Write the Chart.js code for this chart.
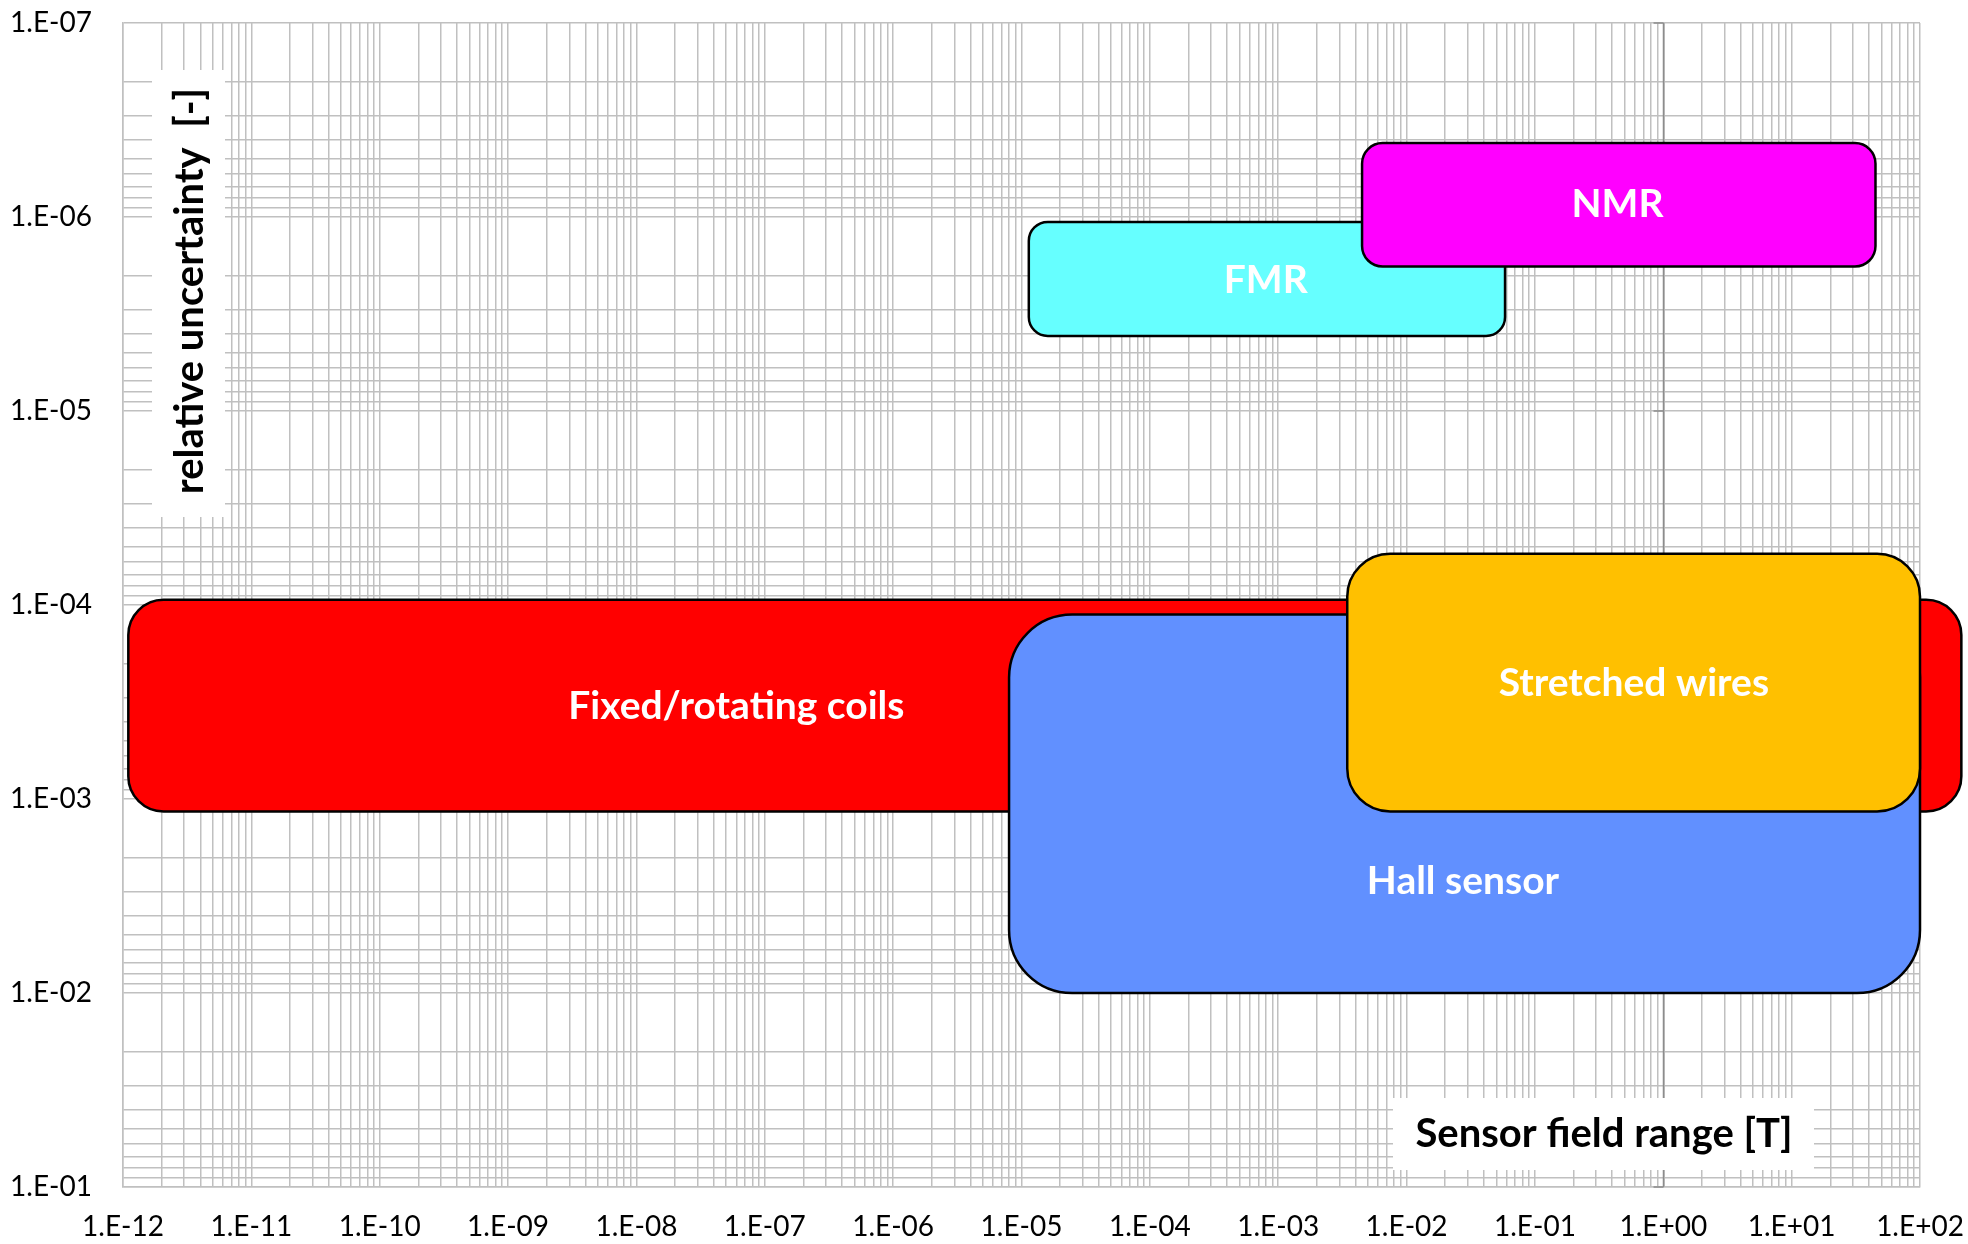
<!DOCTYPE html>
<html>
<head>
<meta charset="utf-8">
<title>Sensor field range and relative uncertainty</title>
<script src="https://cdn.jsdelivr.net/npm/chart.js@4.4.1/dist/chart.umd.min.js"></script>
<style>
  html, body { margin: 0; padding: 0; background: #fff; }
  #wrap { width: 1968px; height: 1244px; }
</style>
</head>
<body>
<div id="wrap"><canvas id="myChart"></canvas></div>
<script>
// Field range [T] and relative uncertainty [-] covered by each method
const sensorNames = ['Fixed/rotating coils', 'Hall sensor', 'Stretched wires', 'FMR', 'NMR'];
const fieldMin = [1.1e-12, 8.0e-6, 3.45e-3, 1.14e-5, 4.5e-3];
const fieldMax = [210, 100, 100, 0.0585, 45];
const uncertaintyBest = [9.4e-5, 1.12e-4, 5.45e-5, 1.06e-6, 4.16e-7];
const uncertaintyWorst = [1.16e-3, 1.0e-2, 1.16e-3, 4.1e-6, 1.8e-6];

// where each method's name is written
const labelField = [6.0e-8, 2.75e-2, 0.59, 8.0e-4, 0.44];
const labelUncertainty = [3.35e-4, 2.67e-3, 2.55e-4, 2.12e-6, 8.65e-7];

const xTickLabels = ['1.E-12', '1.E-11', '1.E-10', '1.E-09', '1.E-08', '1.E-07', '1.E-06', '1.E-05',
                     '1.E-04', '1.E-03', '1.E-02', '1.E-01', '1.E+00', '1.E+01', '1.E+02'];
const yTickLabels = ['1.E-07', '1.E-06', '1.E-05', '1.E-04', '1.E-03', '1.E-02', '1.E-01'];

const xMin = 1e-12, xMax = 1e2;
const yMin = 1e-7, yMax = 1e-1;

const boxColors = ['#ff0000', '#6190ff', '#ffc000', '#66ffff', '#ff00ff'];
const gridColor = '#c0c0c0';
const axisColor = '#8c8c8c';

// 1..9 x 10^n for every decade, so every minor line gets a grid line
function decadeTicks(min, max) {
    const first = Math.round(Math.log10(min));
    const last = Math.round(Math.log10(max));
    const ticks = [];
    for (let e = first; e < last; e++) {
        for (let s = 1; s <= 9; s++) ticks.push({ value: s * Math.pow(10, e) });
    }
    ticks.push({ value: max });
    return ticks;
}

function roundedBox(ctx, x, y, w, h, r) {
    ctx.beginPath();
    ctx.moveTo(x + r, y);
    ctx.arcTo(x + w, y, x + w, y + h, r);
    ctx.arcTo(x + w, y + h, x, y + h, r);
    ctx.arcTo(x, y + h, x, y, r);
    ctx.arcTo(x, y, x + w, y, r);
    ctx.closePath();
}

// Axis at 1 T, axis titles on white patches, then the range boxes on top
const sensorBoxes = {
    id: 'sensorBoxes',
    beforeDatasetsDraw(chart) {
        const { ctx, chartArea: area, scales: { x, y } } = chart;
        ctx.save();

        const px = Math.round(x.getPixelForValue(1)) + 0.5;
        ctx.strokeStyle = axisColor;
        ctx.lineWidth = 1.5;
        ctx.beginPath();
        ctx.moveTo(px, area.top);
        ctx.lineTo(px, area.bottom);
        y.ticks.forEach((t, i) => {
            if (i % 9 !== 0) return;
            const py = y.getPixelForValue(t.value);
            ctx.moveTo(px - 10, py);
            ctx.lineTo(px, py);
        });
        ctx.stroke();

        // y title
        ctx.fillStyle = '#fff';
        ctx.fillRect(area.left + 29, area.top + 47, 73, 447);
        ctx.save();
        ctx.translate(area.left + 67, area.top + 268);
        ctx.rotate(-Math.PI / 2);
        ctx.fillStyle = '#000';
        ctx.font = 'bold 40px Lato';
        ctx.textAlign = 'center';
        ctx.textBaseline = 'middle';
        ctx.fillText('relative uncertainty  [-]', 0, 0);
        ctx.restore();

        // x title
        ctx.fillStyle = '#fff';
        ctx.fillRect(area.right - 527, area.bottom - 89, 421, 72);
        ctx.fillStyle = '#000';
        ctx.font = 'bold 40px Lato';
        ctx.textAlign = 'center';
        ctx.textBaseline = 'middle';
        ctx.fillText('Sensor field range [T]', area.right - 316, area.bottom - 53);
        ctx.restore();
    },
    afterDatasetsDraw(chart) {
        const { ctx, scales: { x, y } } = chart;
        ctx.save();
        chart.data.datasets.forEach((ds) => {
            const [a, b] = ds.data;
            const x0 = x.getPixelForValue(a.x), x1 = x.getPixelForValue(b.x);
            const y0 = y.getPixelForValue(a.y), y1 = y.getPixelForValue(b.y);
            const w = x1 - x0, h = y1 - y0;
            roundedBox(ctx, x0, y0, w, h, Math.min(w, h) / 6);
            ctx.fillStyle = ds.backgroundColor;
            ctx.fill();
            ctx.lineWidth = 2.5;
            ctx.strokeStyle = '#000';
            ctx.stroke();
        });
        ctx.fillStyle = '#fff';
        ctx.font = 'bold 39px Lato';
        ctx.textAlign = 'center';
        ctx.textBaseline = 'middle';
        sensorNames.forEach((name, i) => {
            ctx.fillText(name, x.getPixelForValue(labelField[i]), y.getPixelForValue(labelUncertainty[i]));
        });
        ctx.restore();
    }
};

function drawChart() {
    const datasets = sensorNames.map((name, i) => ({
        label: name,
        data: [
            { x: fieldMin[i], y: uncertaintyBest[i] },
            { x: fieldMax[i], y: uncertaintyWorst[i] }
        ],
        backgroundColor: boxColors[i],
        pointRadius: 0,
        showLine: false,
        clip: false
    }));

    const tickFont = { family: 'Lato', size: 28 };

    new Chart(document.getElementById('myChart'), {
        type: 'scatter',
        data: { datasets },
        plugins: [sensorBoxes],
        options: {
            responsive: true,
            maintainAspectRatio: false,
            animation: false,
            layout: { padding: { top: 23, right: 48, left: 0, bottom: 0 } },
            plugins: { legend: { display: false }, tooltip: { enabled: false } },
            scales: {
                x: {
                    type: 'logarithmic',
                    min: xMin,
                    max: xMax,
                    afterBuildTicks: (scale) => { scale.ticks = decadeTicks(xMin, xMax); },
                    afterFit: (scale) => {
                        scale.height = 57;
                        scale.paddingLeft = 0;
                        scale.paddingRight = 0;
                    },
                    grid: {
                        color: (c) => (c.tick && c.tick.value === 1 ? axisColor : gridColor),
                        lineWidth: 1.5,
                        drawTicks: false
                    },
                    border: { color: gridColor, width: 1.5 },
                    ticks: {
                        autoSkip: false,
                        maxRotation: 0,
                        padding: 23,
                        color: '#000',
                        font: tickFont,
                        callback: (v, i) => (i % 9 === 0 ? xTickLabels[i / 9] : '')
                    }
                },
                y: {
                    type: 'logarithmic',
                    reverse: true,
                    min: yMin,
                    max: yMax,
                    afterBuildTicks: (scale) => { scale.ticks = decadeTicks(yMin, yMax); },
                    afterFit: (scale) => {
                        scale.width = 123;
                        scale.paddingTop = 0;
                        scale.paddingBottom = 0;
                    },
                    grid: { color: gridColor, lineWidth: 1.5, drawTicks: false },
                    border: { color: gridColor, width: 1.5 },
                    ticks: {
                        autoSkip: false,
                        padding: 31,
                        color: '#000',
                        font: tickFont,
                        callback: (v, i) => (i % 9 === 0 ? yTickLabels[i / 9] : '')
                    }
                }
            }
        }
    });
}

window.onload = drawChart;
</script>
</body>
</html>
